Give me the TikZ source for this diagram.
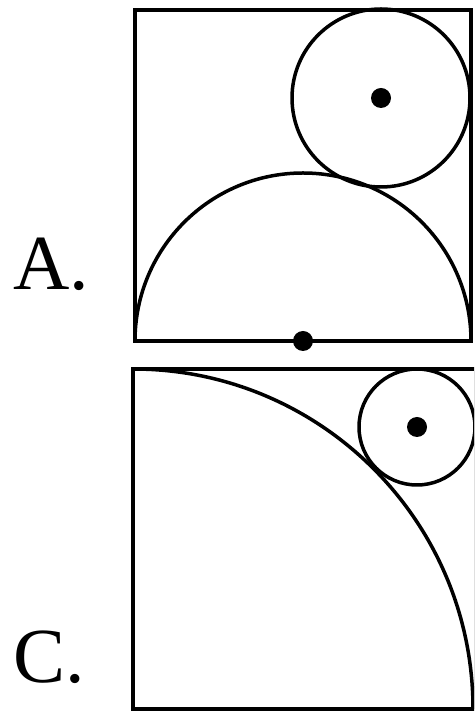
\documentclass[tikz,border=0pt]{standalone}
\usepackage{fontspec}
\setmainfont{Liberation Serif}
\newfontfamily\labelfont{Liberation Serif}
\usetikzlibrary{positioning}

\tikzset{
  boxline/.style={line width=4pt, black},
  figline/.style={line width=3.5pt, black},
  dotmark/.style={fill=black},
  optlabel/.style={font=\labelfont\fontsize{78}{78}\selectfont, inner sep=0pt, anchor=base west}
}

\begin{document}
\begin{tikzpicture}[x=1pt,y=1pt]
    \useasboundingbox (0,0) rectangle (474,712);
    \clip (0,0) rectangle (474,712);

    % Option A: square, semicircle on the base, circle in the corner
    \draw[boxline] (135,371) rectangle (471,702);
    \draw[figline] (135,371) arc[start angle=180, end angle=0, radius=168];
    \draw[figline] (381,614) circle (89);
    \fill[dotmark] (381,614) circle (10);
    \fill[dotmark] (303,371) circle (10);
    \node[optlabel] (labA) at (13,422) {A.};

    % Option C: square, quarter circle, circle in the corner
    \draw[boxline] (133,3) rectangle (476,343);
    \draw[figline] (133,343) arc[start angle=90, end angle=0, radius=340];
    \draw[figline] (417,285) circle (58);
    \fill[dotmark] (417,285) circle (10);
    \node[optlabel] (labC) at (13,29) {C.};

\end{tikzpicture}
\end{document}
